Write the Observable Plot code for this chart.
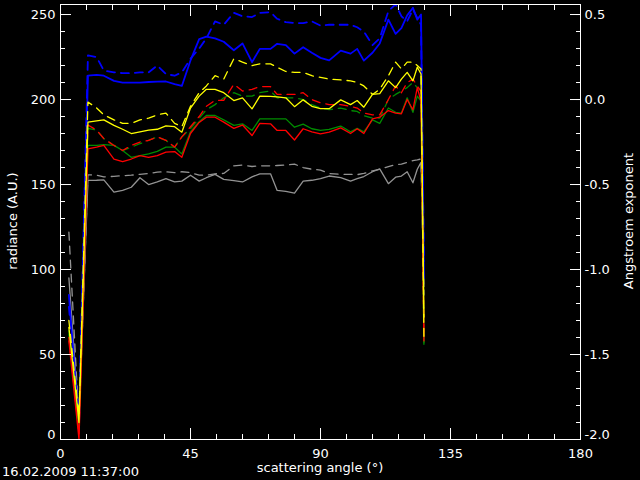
<!DOCTYPE html>
<html>
<head>
<meta charset="utf-8">
<script src="https://cdn.jsdelivr.net/npm/d3@7"></script>
<script src="https://cdn.jsdelivr.net/npm/@observablehq/plot@0.6"></script>
<style>
  html, body { margin: 0; padding: 0; background: #000; }
  svg text { font-family: "DejaVu Sans", sans-serif; }
</style>
</head>
<body>
<div id="chart"></div>
<script>
// ---- data ----
const angles = [2.9, 6.4, 9.5, 12.5, 15, 18.5, 21.5, 24.5, 27.5, 30.5, 33.5, 36.5, 39.5, 42, 45, 48, 50.5, 53.5, 56.5, 60, 63, 66.3, 69, 72.7, 75, 78, 81, 84, 87, 90, 93, 97, 100.4, 102.7, 105, 108, 110.5, 113.5, 116, 118, 120, 122, 123.5, 124.8, 125.8];

const blueSolid   = [85, 8, 214, 214.5, 214, 211, 210, 210, 210, 210.3, 210.5, 210.6, 209, 208, 223, 235.5, 237, 236, 234, 229, 233, 222, 229.8, 229.8, 232.8, 232, 227, 230.8, 227.5, 224.5, 223, 228.8, 227, 229.8, 222.9, 227.5, 233, 247, 238.6, 242, 249.5, 254, 247, 250, 95];
const blueDashed  = [78, 12, 226, 225, 217, 216, 215.5, 215.5, 216, 216, 220, 215, 214, 216, 224, 230, 236, 246, 244, 251, 249, 248.5, 251, 251.4, 247.5, 245.5, 245, 245, 246, 243.5, 244, 244, 244, 242.5, 240, 232, 236, 252, 256, 249, 246, 253, 248, 244, 105];
const yellowSolid = [66, 10, 186.7, 187.5, 188, 184.8, 182.5, 180, 181, 182, 182.5, 184.5, 184, 180.8, 195, 202, 206, 206, 204, 199.4, 201, 194.5, 202, 201.8, 201.5, 201, 195.8, 199.8, 196, 194.6, 194.6, 199.8, 197, 199.4, 195.5, 203, 203.5, 211, 207, 212, 216, 211, 219, 215, 72];
const yellowDashed= [70, 14, 198.5, 195, 191, 188, 186, 186, 188, 189, 191, 192, 186, 184, 196, 204, 208, 214, 212, 224, 222, 220, 221, 221, 219, 216.5, 216, 216, 214, 213, 212, 211.5, 211, 210, 208, 203, 206, 214, 222, 218, 222, 222, 220, 218, 60];
const redSolid    = [58, 0, 171, 172, 173, 165, 163.5, 165, 167, 166, 167, 169, 169.4, 166, 180, 186.5, 189.6, 189.6, 186.7, 183, 185, 178.8, 186, 185.7, 181.8, 181.8, 176.2, 182.8, 181, 179.8, 180.8, 183.3, 180, 182.8, 180, 188.6, 189.6, 193.5, 192, 191.6, 200, 194, 207, 199, 60];
const redDashed   = [60, 3, 185, 182, 177, 173, 170, 173, 175, 176, 178, 176, 172, 178, 184, 190, 196, 199.5, 199.5, 209, 205, 206, 207.6, 207.6, 203, 203, 203, 204, 200, 198, 197, 197, 196, 195, 192, 191, 191, 200, 208, 204, 210, 212, 208, 205, 58];
const greenSolid  = [62, 5, 173, 173, 173.5, 173, 170, 166, 167, 168, 169.5, 172, 172, 168, 181, 187, 190.6, 190.6, 188, 184.8, 185.7, 181.8, 188.6, 188.6, 188.6, 188.6, 183.7, 185.5, 182.8, 181.8, 182.5, 184.4, 181, 183, 181, 188, 186, 195, 192.5, 192, 201, 192.5, 202, 199, 56];
const greenDashed = [64, 8, 183, 182, 177, 173, 170, 172, 174, 176, 178, 176, 172, 178, 183, 189, 194, 197, 201, 204, 202, 202, 204, 205, 201, 201, 201, 200, 197, 195, 194, 195, 193.5, 193, 190.5, 189, 189, 200, 203, 205, 207, 210, 207, 205, 57];
const graySolid   = [95, 12, 152.4, 152.5, 152.7, 145.5, 146.5, 148.4, 154, 150, 151.5, 153.5, 151.5, 152, 155.5, 152, 154, 156, 153, 152.3, 151.5, 154.5, 156.3, 156.3, 146.5, 146, 145, 152, 152.5, 153.5, 155, 154, 152, 153.5, 154.7, 157.5, 159.2, 150.5, 154.3, 155, 157.5, 151, 159, 163, 90];
const grayDashed  = [122, 10, 155.7, 155.5, 154.5, 154.8, 155.2, 155.5, 156, 156.5, 157.3, 157.5, 157, 157.5, 157, 155.5, 155.5, 156.3, 156.5, 161, 161.5, 160.6, 161, 161, 161.2, 161.5, 162, 160, 159, 158.5, 156.5, 156, 156, 155.8, 156.5, 158, 159, 160.5, 161.8, 162, 163, 164, 164.5, 165, 85];

const xMajor = [0, 45, 90, 135, 180];
const xMinor = d3.range(0, 181, 9);
const yMajor = [0, 50, 100, 150, 200, 250];
const yMinor = d3.range(0, 256, 10);
const xTitle = "scattering angle (°)";
const yTitle = "radiance (A.U.)";
const y2Title = "Angstroem exponent";
const stamp = "16.02.2009 11:37:00";

// ---- series styling ----
const series = [
  {values: graySolid,    color: "#939393", dashed: false},
  {values: grayDashed,   color: "#939393", dashed: true},
  {values: blueSolid,    color: "#0000ff", dashed: false},
  {values: blueDashed,   color: "#0000ff", dashed: true},
  {values: greenSolid,   color: "#008c00", dashed: false},
  {values: greenDashed,  color: "#008c00", dashed: true},
  {values: redSolid,     color: "#ff0000", dashed: false},
  {values: redDashed,    color: "#ff0000", dashed: true},
  {values: yellowSolid,  color: "#ffff00", dashed: false},
  {values: yellowDashed, color: "#ffff00", dashed: true}
];

const lineMarks = series.map(s => Plot.line(
  angles.map((a, i) => ({angle: a, value: s.values[i]})),
  {x: "angle", y: "value", stroke: s.color, strokeWidth: s.color === "#0000ff" ? 1.8 : 1.3,
   strokeDasharray: s.dashed ? "8,6" : null, clip: true}
));

const fs = 13;
const yRightFmt = d => (d / 100 - 2).toFixed(1);

const chart = Plot.plot({
  width: 640, height: 480,
  marginLeft: 60, marginRight: 60, marginTop: 4, marginBottom: 41,
  style: {background: "black", color: "white", fontFamily: "DejaVu Sans", fontSize: fs + "px"},
  x: {domain: [0, 180]},
  y: {domain: [0, 255.9]},
  marks: [
    ...lineMarks,
    Plot.frame({stroke: "white"}),
    // left axis
    Plot.axisY(yMajor.filter(d => d > 0), {anchor: "left", tickSize: 0, tickPadding: 5, label: null, fill: "white"}),
    Plot.axisY([0], {anchor: "left", tickSize: 0, tickPadding: 5, label: null, fill: "white", dy: -5}),
    Plot.axisY(yMajor, {anchor: "left", tickSize: 11, dx: 11, fill: "none", stroke: "white", label: null}),
    Plot.axisY(yMinor, {anchor: "left", tickSize: 5, dx: 5, fill: "none", stroke: "white", label: null}),
    // right axis (Angstroem exponent)
    Plot.axisY(yMajor.filter(d => d > 0), {anchor: "right", tickSize: 0, tickPadding: 4, label: null, fill: "white", tickFormat: yRightFmt}),
    Plot.axisY([0], {anchor: "right", tickSize: 0, tickPadding: 4, label: null, fill: "white", tickFormat: yRightFmt, dy: -5}),
    Plot.axisY(yMajor, {anchor: "right", tickSize: 11, dx: -11, fill: "none", stroke: "white", label: null}),
    Plot.axisY(yMinor, {anchor: "right", tickSize: 5, dx: -5, fill: "none", stroke: "white", label: null}),
    // bottom axis
    Plot.axisX(xMajor, {anchor: "bottom", tickSize: 0, tickPadding: 9, label: null, fill: "white"}),
    Plot.axisX(xMajor, {anchor: "bottom", tickSize: 11, dy: -11, fill: "none", stroke: "white", label: null}),
    Plot.axisX(xMinor, {anchor: "bottom", tickSize: 5, dy: -5, fill: "none", stroke: "white", label: null}),
    // top axis ticks
    Plot.axisX(xMajor, {anchor: "top", tickSize: 11, dy: 11, fill: "none", stroke: "white", label: null}),
    Plot.axisX(xMinor, {anchor: "top", tickSize: 5, dy: 5, fill: "none", stroke: "white", label: null})
  ]
});

const svg = d3.select(chart);
const addText = (txt, x, y, anchor, rot) => {
  const t = svg.append("text")
    .attr("fill", "white")
    .attr("font-size", fs)
    .attr("font-family", "DejaVu Sans")
    .attr("text-anchor", anchor)
    .text(txt);
  if (rot) t.attr("transform", `translate(${x},${y}) rotate(${rot})`).attr("dy", "0.35em");
  else t.attr("x", x).attr("y", y);
};
addText(xTitle, 320, 472, "middle");
addText(stamp, 2, 476, "start");
addText(yTitle, 12, 221, "middle", -90);
addText(y2Title, 628, 221, "middle", -90);

document.getElementById("chart").appendChild(chart);
</script>
</body>
</html>
